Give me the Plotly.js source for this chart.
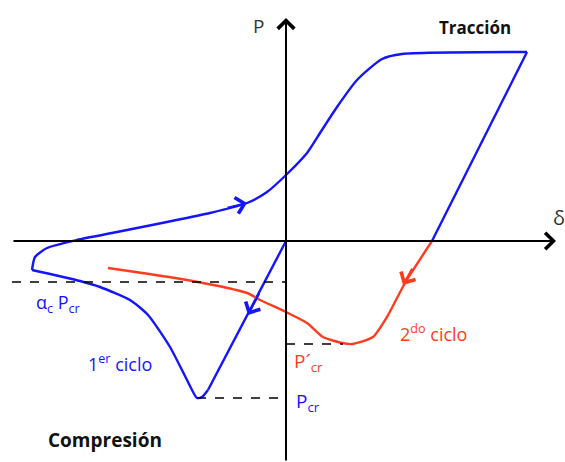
<!DOCTYPE html>
<html>
<head>
<meta charset="utf-8">
<script src="https://cdn.plot.ly/plotly-3.0.1.min.js"></script>
<style>
  html, body { margin: 0; padding: 0; background: #fff; }
  #chart { width: 565px; height: 462px; }
</style>
</head>
<body>
<div id="chart"></div>
<script>
// primer ciclo: desde el origen hacia compresion, luego traccion y descarga
var ciclo1_d = [0, -78, -84, -89, -99, -116, -138, -156, -186, -206, -254, -251, -239, -209,
                -169, -119, -76, -39, -19, 0, 21, 34, 51, 71, 96, 116, 241, 146];
var ciclo1_P = [0, -149, -156, -157, -139, -106, -74, -59, -46, -40, -29, -16, -7, 1,
                9, 19, 28, 38, 49, 66, 88, 108, 134, 161, 182, 187, 189, 0];
// indices de los quiebres del primer ciclo
var quiebres = [0, 1, 10, 26, 27];

// segundo ciclo
var ciclo2_d = [146, 119, 101, 87, 66, 56, 37, 21, 0, -26, -39, -99, -178];
var ciclo2_P = [0, -42, -76, -96, -103, -102, -96, -82, -71, -59, -52, -39, -27];

// niveles de carga critica
var alphaPcr = -41;
var Pcr = -157;
var Pcr2 = -103;
var Pcr_d = -89;
var Pcr2_d = 57;

var azul = '#1414ff';
var rojo = '#ff3c1e';
var fuente = '"Open Sans", Lato, sans-serif';

var traces = [];
for (var i = 0; i < quiebres.length - 1; i++) {
  var a = quiebres[i], b = quiebres[i + 1] + 1;
  traces.push({
    x: ciclo1_d.slice(a, b), y: ciclo1_P.slice(a, b),
    mode: 'lines',
    line: { color: azul, width: 2.4, shape: 'spline', smoothing: 0.6 },
    hoverinfo: 'skip'
  });
}
traces.push({
  x: ciclo2_d, y: ciclo2_P,
  mode: 'lines',
  line: { color: rojo, width: 2.4, shape: 'spline', smoothing: 0.6 },
  hoverinfo: 'skip'
});

var discont = { color: '#000', width: 1.6, dash: 'dash' };
traces.push(
  { x: [-274, 0], y: [alphaPcr, alphaPcr], mode: 'lines', line: discont, hoverinfo: 'skip' },
  { x: [Pcr_d, 0], y: [Pcr, Pcr], mode: 'lines', line: discont, hoverinfo: 'skip' },
  { x: [0, Pcr2_d], y: [Pcr2, Pcr2], mode: 'lines', line: discont, hoverinfo: 'skip' }
);

function flecha(x, y, ax, ay, color, w) {
  return {
    x: x, y: y, ax: ax, ay: ay,
    xref: 'x', yref: 'y', axref: 'x', ayref: 'y',
    text: '', showarrow: true,
    arrowhead: 4, arrowsize: 1.6, arrowwidth: w, arrowcolor: color
  };
}

function texto(x, y, t, color, size, bold, anchor) {
  return {
    x: x, y: y, xref: 'x', yref: 'y',
    text: bold ? '<b>' + t + '</b>' : t,
    showarrow: false,
    xanchor: anchor || 'center',
    font: { family: fuente, size: size, color: color }
  };
}

var annotations = [
  // ejes
  flecha(270, 0, -274, 0, '#000', 2),
  flecha(0, 223, 0, -221, '#000', 2),
  // flechas de sentido
  flecha(-39, 38, -60, 33, azul, 2),
  flecha(-38, -74, -26, -51, azul, 2),
  flecha(117, -44, 127, -26, rojo, 2),
  // textos
  texto(-28, 215, 'P', '#333', 19, false),
  texto(265, 24, '&#948;', '#333', 20, false, 'left'),
  texto(189, 214, 'Tracción', '#111', 17, true),
  texto(-181, -199, 'Compresión', '#111', 19, true),
  texto(-228, -62, '&#945;<sub>c</sub> P<sub>cr</sub>', azul, 18, false),
  texto(-166, -122, '1<sup>er</sup> ciclo', azul, 18, false),
  texto(147, -92, '2<sup>do</sup> ciclo', rojo, 18, false),
  texto(6, -121, 'P´<sub>cr</sub>', rojo, 19, false, 'left'),
  texto(8, -161, 'P<sub>cr</sub>', azul, 19, false, 'left')
];

var layout = {
  width: 565,
  height: 462,
  margin: { l: 0, r: 0, t: 0, b: 0 },
  paper_bgcolor: '#fff',
  plot_bgcolor: '#fff',
  showlegend: false,
  xaxis: { range: [-286, 279], visible: false, fixedrange: true },
  yaxis: { range: [-221, 241], visible: false, fixedrange: true },
  annotations: annotations
};

Plotly.newPlot('chart', traces, layout, { staticPlot: true });
</script>
</body>
</html>
